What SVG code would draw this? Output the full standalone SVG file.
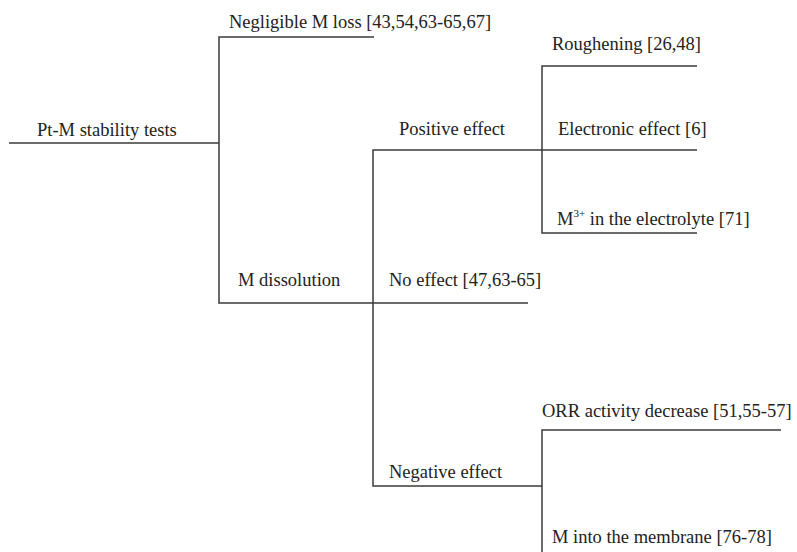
<svg xmlns="http://www.w3.org/2000/svg" width="797" height="552" viewBox="0 0 797 552">
<style>
text{font-family:'Liberation Serif',serif;font-size:18.5px;fill:#222}
.sup{font-size:11px}
.c{fill:none;stroke:#3a3a3a;stroke-width:1.5}
</style>
<rect width="797" height="552" fill="#fff"/>
<g id="connectors">
<path class="c" d="M9 143H219"/>
<path class="c" d="M374 37H219V303H528"/>
<path class="c" d="M697 150H373V486H542"/>
<path class="c" d="M697 66H542V233H697"/>
<path class="c" d="M781 430H542V552"/>
</g>
<g id="root"><text font-family="Liberation Serif, serif" x="37" y="136">Pt-M stability tests</text></g>
<g id="negligible"><text x="229" y="28">Negligible M loss [43,54,63-65,67]</text></g>
<g id="dissolution"><text x="238" y="286">M dissolution</text></g>
<g id="positive"><text x="399" y="135">Positive effect</text></g>
<g id="noeffect"><text x="389" y="286">No effect [47,63-65]</text></g>
<g id="negative"><text x="389" y="478">Negative effect</text></g>
<g id="roughening"><text x="552" y="50">Roughening [26,48]</text></g>
<g id="electronic"><text x="558" y="135">Electronic effect [6]</text></g>
<g id="m3"><text x="557" y="225">M<tspan class="sup" dy="-8">3+</tspan><tspan dy="8"> in the electrolyte [71]</tspan></text></g>
<g id="orr"><text x="542" y="417">ORR activity decrease [51,55-57]</text></g>
<g id="membrane"><text x="552" y="543">M into the membrane [76-78]</text></g>
</svg>
